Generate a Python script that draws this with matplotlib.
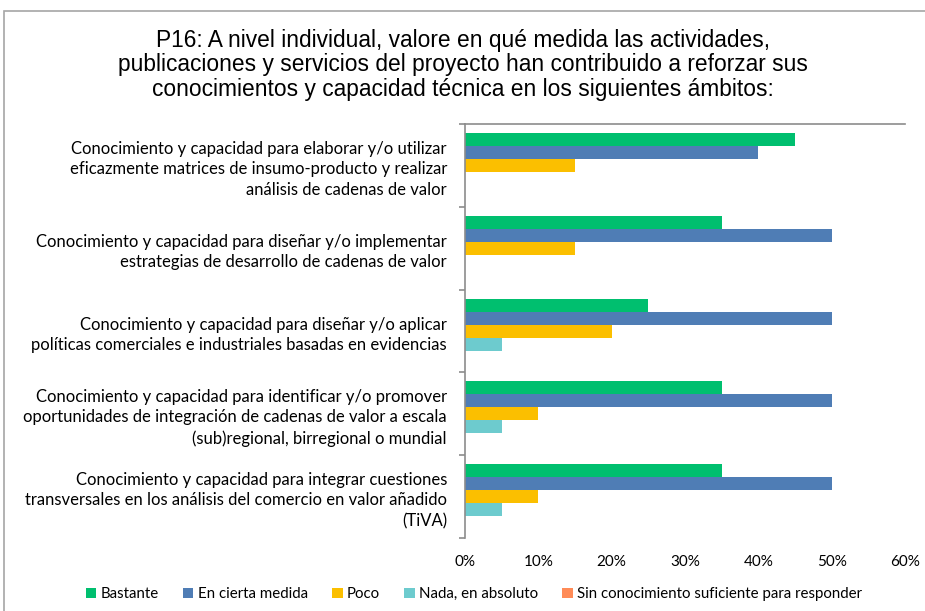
import matplotlib
matplotlib.use("Agg")
import matplotlib.pyplot as plt
import numpy as np
from matplotlib.patches import Rectangle
from matplotlib.ticker import FuncFormatter

# Dane z wykresu (procent odpowiedzi)
kategorie = [
    "Conocimiento y capacidad para elaborar y/o utilizar\neficazmente matrices de insumo-producto y realizar\nanálisis de cadenas de valor",
    "Conocimiento y capacidad para diseñar y/o implementar\nestrategias de desarrollo de cadenas de valor",
    "Conocimiento y capacidad para diseñar y/o aplicar\npolíticas comerciales e industriales basadas en evidencias",
    "Conocimiento y capacidad para identificar y/o promover\noportunidades de integración de cadenas de valor a escala\n(sub)regional, birregional o mundial",
    "Conocimiento y capacidad para integrar cuestiones\ntransversales en los análisis del comercio en valor añadido\n(TiVA)",
]
serie_nazwy = ["Bastante", "En cierta medida", "Poco", "Nada, en absoluto",
               "Sin conocimiento suficiente para responder"]
bastante = [45, 35, 25, 35, 35]
en_cierta_medida = [40, 50, 50, 50, 50]
poco = [15, 15, 20, 10, 10]
nada = [0, 0, 5, 5, 5]
sin_conocimiento = [0, 0, 0, 0, 0]
x_ticks = [0, 10, 20, 30, 40, 50, 60]

kolory = ["#00BF6F", "#4F7DB5", "#FBBF00", "#6DCBCE", "#FF8B57"]
tytul = ("P16: A nivel individual, valore en qué medida las actividades,\n"
         "publicaciones y servicios del proyecto han contribuido a reforzar sus\n"
         "conocimientos y capacidad técnica en los siguientes ámbitos:")

fig = plt.figure(figsize=(9.25, 6.11), dpi=100)
ax = fig.add_axes([0.5027, 0.1195, 0.4757, 0.6775])

# Ramka obszaru wykresu
fig.patches.append(Rectangle((4 / 925, -0.05), 1.1, 1 - 11 / 611 + 0.05,
                             transform=fig.transFigure, fill=False,
                             edgecolor="#A6A6A6", linewidth=1.2))

fig.text(0.5, 1 - 65 / 611, tytul, ha="center", va="center",
         fontsize=16.4, family="Liberation Sans", linespacing=1.1)

serie = [bastante, en_cierta_medida, poco, nada, sin_conocimiento]
y = np.arange(len(kategorie))
h = 0.157
for i, (wartosci, kolor, nazwa) in enumerate(zip(serie, kolory, serie_nazwy)):
    ax.barh(y + (i - 2) * h, wartosci, height=h, color=kolor, label=nazwa)

ax.set_xlim(0, 60)
ax.set_ylim(len(kategorie) - 0.5, -0.5)
ax.set_xticks(x_ticks)
ax.xaxis.set_major_formatter(FuncFormatter(lambda v, p: f"{int(v)}%"))
ax.tick_params(axis="x", length=0, pad=12, labelsize=11)
for lab in ax.get_xticklabels():
    lab.set_family("Lato")

ax.set_yticks(np.arange(len(kategorie) + 1) - 0.5)
ax.set_yticklabels([])
ax.tick_params(axis="y", which="major", length=4, color="#8C8C8C", width=1.2)
ax.set_yticks(y, minor=True)
ax.set_yticklabels(kategorie, minor=True, fontsize=12, family="Lato",
                   linespacing=1.35)
ax.tick_params(axis="y", which="minor", length=0, pad=13)
for lab in ax.get_yticklabels(minor=True):
    lab.set_horizontalalignment("right")

for s in ["right", "bottom"]:
    ax.spines[s].set_visible(False)
for s in ["left", "top"]:
    ax.spines[s].set_color("#8C8C8C")
    ax.spines[s].set_linewidth(1.2)

leg = fig.legend(loc="center", bbox_to_anchor=(0.5125, 1 - 594 / 611), ncol=5,
                 frameon=False, handlelength=0.7, handleheight=0.7,
                 handletextpad=0.3, columnspacing=1.6,
                 prop={"family": "Lato", "size": 10.8})

fig.savefig("out.png", dpi=100)
